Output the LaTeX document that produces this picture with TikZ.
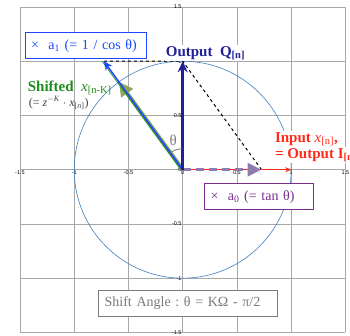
\documentclass[tikz,border=0pt]{standalone}
\usepackage{fontspec}
\setmainfont{Liberation Serif}
\newfontfamily\tickfont{Liberation Sans}
\usepackage{xcolor}
\usetikzlibrary{calc, angles, quotes, arrows.meta}

\definecolor{navyout}{HTML}{1F1F99}
\definecolor{redin}{HTML}{FF2A1A}
\definecolor{greenshift}{HTML}{1E8C1E}
\definecolor{oliveshift}{HTML}{8CA75A}
\definecolor{blueshift}{HTML}{1A47FF}
\definecolor{purplea}{HTML}{7B2C8C}
\definecolor{lavdash}{HTML}{8E7BAE}
\definecolor{circblue}{HTML}{3F7FBF}
\definecolor{gridgray}{HTML}{A8A8A8}
\definecolor{boxgray}{HTML}{7A7A7A}

\begin{document}
\begin{tikzpicture}[x=108.5pt, y=108.5pt,
		gridline/.style={gridgray, line width=0.8pt},
		ticklabel/.style={font=\tickfont\fontsize{5.5}{6}\selectfont, inner sep=1pt},
		bigtext/.style={font=\fontsize{15}{16}\selectfont, inner sep=1pt},
		labelbox/.style={draw, line width=0.8pt, fill=white, font=\fontsize{14}{15}\selectfont,
			align=left, inner xsep=6pt, inner ysep=0pt, minimum height=26pt}]
			\useasboundingbox (-1.684,-1.524) rectangle (1.542,1.564);
			\clip (-1.684,-1.524) rectangle (1.542,1.564);
			\foreach \g in {-1.5,-1,...,1.5} {
				\draw[gridline] (\g,-1.5) -- (\g,1.5);
				\draw[gridline] (-1.5,\g) -- (1.5,\g);
			}
			\foreach \t in {-1.5,-1,-0.5,0,0.5,1,1.5} {
				\node[ticklabel, below] at (\t,0) {\t};
				\node[ticklabel, left] at (0,\t) {\t};
			}
			\coordinate (O) at (0,0);
			\coordinate (I) at (1,0);
			\coordinate (Q) at (0,1);
			\coordinate (A0) at ({tan(36)},0);
			\coordinate (A1) at ({-tan(36)},1);
			\coordinate (S) at (126:1);
			\draw[circblue, line width=0.6pt] (O) circle (1);
			\draw[dashed, line width=1pt] (A1) -- (Q) -- (A0);
			\draw[redin, line width=1.5pt, -{Stealth[length=6pt, width=5pt]}] (O) -- (I);
			\draw[lavdash, line width=3.2pt, dash pattern=on 8pt off 5pt, -{Triangle[length=14pt, width=13pt]}] (O) -- (A0);
			\draw[oliveshift, line width=4pt, -{Triangle[length=14pt, width=14pt]}] (O) -- (S);
			\draw[greenshift, line width=0.7pt] ([xshift=-1.8pt]O) -- ([xshift=-1.8pt]A1);
			\draw[blueshift, line width=1.5pt, -{Stealth[length=9pt, width=8pt]}] (O) -- (A1);
			\draw[navyout, line width=2.5pt, -{Stealth[length=11pt, width=10pt]}] (O) -- (Q);
			\pic[draw, boxgray, line width=0.8pt, text=boxgray, font=\fontsize{15}{16}\selectfont,
				"θ", angle eccentricity=1.45, angle radius=21pt] {angle = Q--O--S};
			\node[labelbox, draw=blueshift, text=blueshift, text width=109pt] (a1box) at (-0.894,1.142)
				{×~~a\textsubscript{1}~(=~1~/~cos~θ)};
			\node[labelbox, draw=purplea, text=purplea, text width=97pt] (a0box) at (0.705,-0.249)
				{×~~a\textsubscript{0}~(=~tan~θ)};
			\node[labelbox, draw=boxgray, text=boxgray, text width=167pt] (shiftbox) at (0.05,-1.23)
				{Shift~Angle~:~θ~=~KΩ~-~π/2};
			\node[bigtext, fill=white, text=navyout, anchor=base] (outq) at (0.21,1.046)
				{\bfseries Output\ \ Q\textsubscript{[n]}};
			\node[bigtext, text=greenshift, anchor=base west] (shifted) at (-1.438,0.723)
				{\bfseries Shifted\ \ \mdseries\textit{x}\textsubscript{[n-K]}};
			\node[font=\fontsize{12}{13}\selectfont, text=black!75, inner sep=1pt, anchor=base west] (shiftz) at (-1.429,0.585)
				{(= \textit{z}\textsuperscript{$-$\textit{K}} $\cdot$ \textit{x}\textsubscript{[\textit{n}]})};
			\node[bigtext, fill=white, text=redin, anchor=base west] (inputx) at (0.84,0.253)
				{\bfseries Input \mdseries\textit{x}\textsubscript{[n]}\bfseries ,};
			\node[bigtext, fill=white, text=redin, anchor=base west] (outputi) at (0.84,0.106)
				{\bfseries = Output I\textsubscript{[n]}};
		\end{tikzpicture}
\end{document}
